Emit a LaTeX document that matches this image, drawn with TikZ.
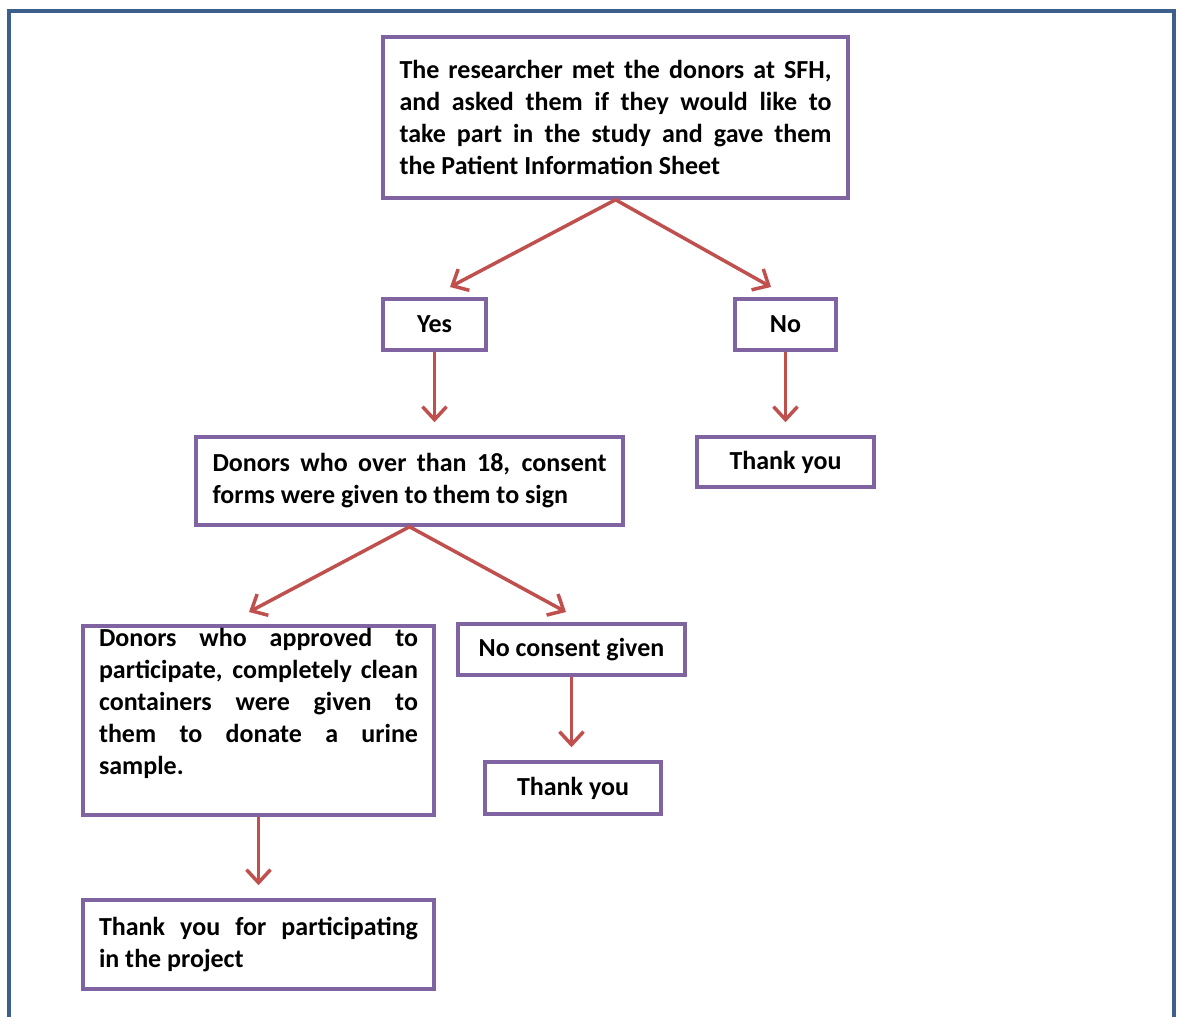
\documentclass[tikz,border=0pt]{standalone}
\usepackage{fontspec}
\setmainfont{Carlito}
\usetikzlibrary{arrows.meta,positioning}
\definecolor{plum}{RGB}{128,100,162}
\definecolor{brick}{RGB}{192,80,77}
\definecolor{steel}{RGB}{60,95,140}
\tikzset{
  >={Straight Barb[length=13pt,width=24pt,line width=3.5pt]},
  box/.style={draw=plum,line width=3.5pt,fill=white,inner xsep=16pt,
    font=\fontsize{26}{32}\selectfont\bfseries,align=center},
  flow/.style={->,line width=3.5pt,draw=brick},
  down/.style={flow,shorten >=13pt},
  frame/.style={draw=steel,line width=4pt},
}
\begin{document}
\begin{tikzpicture}[x=1pt,y=-1pt]
  \useasboundingbox (0,0) rectangle (1179,1017);
  \draw[frame] (9,1030) -- (9,11) -- (1174,11) -- (1174,1030);
  % boxes
  \node[box,minimum width=465pt,minimum height=161pt,text width=432pt,align=justify] (ask) at (615.5,117.5)
    {The researcher met the donors at SFH,\linebreak and asked them if they would like to\linebreak take part in the study and gave them\linebreak the Patient Information Sheet};
  \node[box,minimum width=103pt,minimum height=51pt] (yes) at (434.5,324.5) {Yes};
  \node[box,minimum width=101pt,minimum height=51pt] (no) at (785.5,324.5) {No};
  \node[box,minimum width=427pt,minimum height=88pt,text width=394pt,align=justify] (consent) at (409.5,481)
    {Donors who over than 18, consent\linebreak forms were given to them to sign};
  \node[box,minimum width=177pt,minimum height=50pt] (thanks1) at (785.5,462) {Thank you};
  \node[box,anchor=north,minimum width=351pt,minimum height=189pt,inner ysep=3pt] (approved) at (258.5,624)
    {\parbox[t][183pt][t]{319pt}{Donors who approved to\linebreak participate, completely clean\linebreak containers were given to\linebreak them to donate a urine\linebreak sample.}};
  \node[box,minimum width=227pt,minimum height=51pt] (refused) at (571.5,649.5) {No consent given};
  \node[box,minimum width=176pt,minimum height=52pt] (thanks2) at (573,788) {Thank you};
  \node[box,minimum width=351pt,minimum height=89pt,text width=319pt,align=justify] (thanks3) at (258.5,944.5)
    {Thank you for participating\linebreak in the project};
  % arrow ends
  \coordinate (yesin) at (450,287);
  \coordinate (noin) at (771,287);
  \coordinate (appin) at (249,612);
  \coordinate (refin) at (566,612);
  % connectors
  \draw[flow] (ask.south) -- (yesin);
  \draw[flow] (ask.south) -- (noin);
  \draw[down] (yes.south) -- (yes.south |- consent.north);
  \draw[down] (no.south) -- (no.south |- thanks1.north);
  \draw[flow] (consent.south) -- (appin);
  \draw[flow] (consent.south) -- (refin);
  \draw[down] (refused.south) -- (refused.south |- thanks2.north);
  \draw[down] (approved.south) -- (approved.south |- thanks3.north);
\end{tikzpicture}
\end{document}
